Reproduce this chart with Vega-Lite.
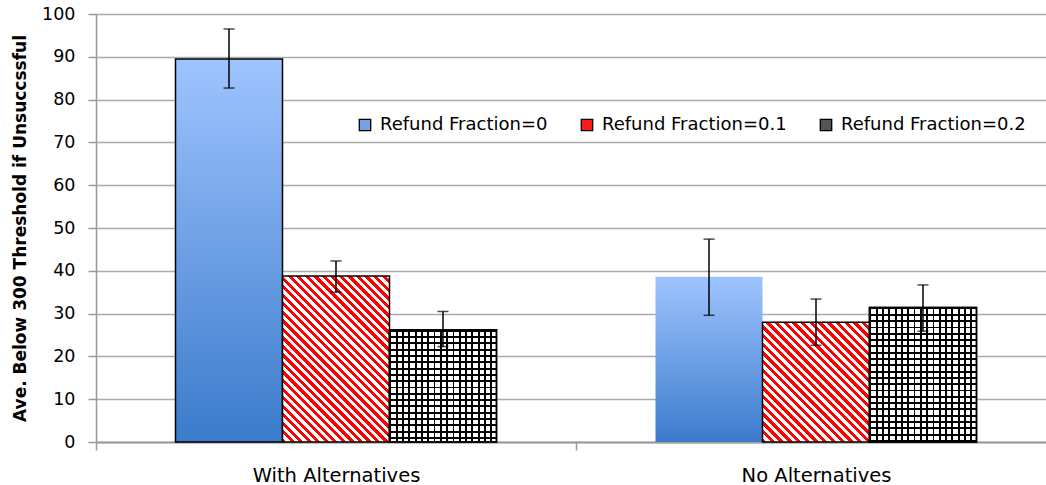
{
  "$schema": "https://vega.github.io/schema/vega-lite/v6.json",
  "width": 950,
  "height": 428,
  "autosize": {"type": "none"},
  "padding": {"left": 96, "top": 14, "right": 0, "bottom": 43},
  "background": "white",
  "config": {"view": {"stroke": null}, "font": "DejaVu Sans"},
  "data": {"values": [
    {"group": "With Alternatives", "series": "Refund Fraction=0", "value": 89.5, "lo": 82.7, "hi": 96.5},
    {"group": "With Alternatives", "series": "Refund Fraction=0.1", "value": 38.8, "lo": 35.0, "hi": 42.3},
    {"group": "With Alternatives", "series": "Refund Fraction=0.2", "value": 26.2, "lo": 22.3, "hi": 30.5},
    {"group": "No Alternatives", "series": "Refund Fraction=0", "value": 38.6, "lo": 29.6, "hi": 47.4},
    {"group": "No Alternatives", "series": "Refund Fraction=0.1", "value": 28.0, "lo": 22.6, "hi": 33.4},
    {"group": "No Alternatives", "series": "Refund Fraction=0.2", "value": 31.4, "lo": 25.9, "hi": 36.7}
  ]},
  "encoding": {
    "x": {
      "field": "group", "type": "nominal",
      "sort": ["With Alternatives", "No Alternatives"],
      "scale": {"range": [0, 960], "paddingInner": 0, "paddingOuter": 0},
      "axis": {
        "title": null, "labelAngle": 0, "labelFont": "DejaVu Sans", "labelFontSize": 19.5, "labelColor": "black",
        "tickBand": "extent", "tickSize": 8, "tickColor": "#999999", "tickWidth": 1.5,
        "domainColor": "#999999", "domainWidth": 2, "labelBaseline": "alphabetic", "labelPadding": 31, "grid": false
      }
    },
    "xOffset": {
      "field": "series", "type": "nominal",
      "sort": ["Refund Fraction=0", "Refund Fraction=0.1", "Refund Fraction=0.2"],
      "scale": {"paddingInner": 0, "paddingOuter": 0.743}
    }
  },
  "layer": [
    {
      "mark": {"type": "bar", "stroke": "black", "strokeWidth": 1.5},
      "encoding": {
        "y": {
          "field": "value", "type": "quantitative",
          "scale": {"domain": [0, 100]},
          "axis": {
            "values": [0, 10, 20, 30, 40, 50, 60, 70, 80, 90, 100],
            "title": "Ave. Below 300 Threshold if Unsuccssful",
            "titleFont": "DejaVu Sans", "titleFontSize": 17, "titleFontWeight": "bold", "titleColor": "black",
            "titleX": -76, "titleY": 214, "titleAngle": -90, "titleBaseline": "middle", "titleAlign": "center",
            "labelFont": "DejaVu Sans", "labelFontSize": 17.5, "labelColor": "black", "labelPadding": 13,
            "tickSize": 8, "tickColor": "#999999", "tickWidth": 1.5,
            "domainColor": "#999999", "domainWidth": 1.5,
            "gridColor": "#ababab", "gridWidth": 1.5
          }
        },
        "strokeOpacity": {
          "condition": {"test": "datum.series === 'Refund Fraction=0' && datum.group === 'No Alternatives'", "value": 0},
          "value": 1
        },
        "fill": {
          "field": "series", "type": "nominal",
          "scale": {
            "domain": ["Refund Fraction=0", "Refund Fraction=0.1", "Refund Fraction=0.2"],
            "range": ["#74a3e8", "#ff1a1a", "#555555"]
          },
          "legend": {
            "title": null, "orient": "none", "legendX": 260, "legendY": 102, "direction": "horizontal",
            "symbolType": "square", "symbolSize": 130, "labelFont": "DejaVu Sans", "labelFontSize": 18,
            "labelColor": "black", "labelOffset": 6, "columnPadding": 30, "padding": 0, "labelLimit": 400,
            "symbolStrokeWidth": 1.3
          },
          "condition": [
            {"test": "datum.series === 'Refund Fraction=0'",
             "value": {"gradient": "linear", "x1": 0, "y1": 0, "x2": 0, "y2": 1, "stops": [{"offset": 0, "color": "#9fc4ff"}, {"offset": 1, "color": "#3b7bcb"}]}},
            {"test": "datum.series === 'Refund Fraction=0.1' && datum.group === 'With Alternatives'",
             "value": {"gradient": "linear", "x1": 0, "y1": 1, "x2": 0.7487, "y2": -0.1619, "stops": [
              {"offset":0,"color":"red"},
              {"offset":0.015625,"color":"red"},{"offset":0.015625,"color":"white"},
              {"offset":0.03125,"color":"white"},{"offset":0.03125,"color":"red"},
              {"offset":0.046875,"color":"red"},{"offset":0.046875,"color":"white"},
              {"offset":0.0625,"color":"white"},{"offset":0.0625,"color":"red"},
              {"offset":0.078125,"color":"red"},{"offset":0.078125,"color":"white"},
              {"offset":0.09375,"color":"white"},{"offset":0.09375,"color":"red"},
              {"offset":0.109375,"color":"red"},{"offset":0.109375,"color":"white"},
              {"offset":0.125,"color":"white"},{"offset":0.125,"color":"red"},
              {"offset":0.140625,"color":"red"},{"offset":0.140625,"color":"white"},
              {"offset":0.15625,"color":"white"},{"offset":0.15625,"color":"red"},
              {"offset":0.171875,"color":"red"},{"offset":0.171875,"color":"white"},
              {"offset":0.1875,"color":"white"},{"offset":0.1875,"color":"red"},
              {"offset":0.203125,"color":"red"},{"offset":0.203125,"color":"white"},
              {"offset":0.21875,"color":"white"},{"offset":0.21875,"color":"red"},
              {"offset":0.234375,"color":"red"},{"offset":0.234375,"color":"white"},
              {"offset":0.25,"color":"white"},{"offset":0.25,"color":"red"},
              {"offset":0.265625,"color":"red"},{"offset":0.265625,"color":"white"},
              {"offset":0.28125,"color":"white"},{"offset":0.28125,"color":"red"},
              {"offset":0.296875,"color":"red"},{"offset":0.296875,"color":"white"},
              {"offset":0.3125,"color":"white"},{"offset":0.3125,"color":"red"},
              {"offset":0.328125,"color":"red"},{"offset":0.328125,"color":"white"},
              {"offset":0.34375,"color":"white"},{"offset":0.34375,"color":"red"},
              {"offset":0.359375,"color":"red"},{"offset":0.359375,"color":"white"},
              {"offset":0.375,"color":"white"},{"offset":0.375,"color":"red"},
              {"offset":0.390625,"color":"red"},{"offset":0.390625,"color":"white"},
              {"offset":0.40625,"color":"white"},{"offset":0.40625,"color":"red"},
              {"offset":0.421875,"color":"red"},{"offset":0.421875,"color":"white"},
              {"offset":0.4375,"color":"white"},{"offset":0.4375,"color":"red"},
              {"offset":0.453125,"color":"red"},{"offset":0.453125,"color":"white"},
              {"offset":0.46875,"color":"white"},{"offset":0.46875,"color":"red"},
              {"offset":0.484375,"color":"red"},{"offset":0.484375,"color":"white"},
              {"offset":0.5,"color":"white"},{"offset":0.5,"color":"red"},
              {"offset":0.515625,"color":"red"},{"offset":0.515625,"color":"white"},
              {"offset":0.53125,"color":"white"},{"offset":0.53125,"color":"red"},
              {"offset":0.546875,"color":"red"},{"offset":0.546875,"color":"white"},
              {"offset":0.5625,"color":"white"},{"offset":0.5625,"color":"red"},
              {"offset":0.578125,"color":"red"},{"offset":0.578125,"color":"white"},
              {"offset":0.59375,"color":"white"},{"offset":0.59375,"color":"red"},
              {"offset":0.609375,"color":"red"},{"offset":0.609375,"color":"white"},
              {"offset":0.625,"color":"white"},{"offset":0.625,"color":"red"},
              {"offset":0.640625,"color":"red"},{"offset":0.640625,"color":"white"},
              {"offset":0.65625,"color":"white"},{"offset":0.65625,"color":"red"},
              {"offset":0.671875,"color":"red"},{"offset":0.671875,"color":"white"},
              {"offset":0.6875,"color":"white"},{"offset":0.6875,"color":"red"},
              {"offset":0.703125,"color":"red"},{"offset":0.703125,"color":"white"},
              {"offset":0.71875,"color":"white"},{"offset":0.71875,"color":"red"},
              {"offset":0.734375,"color":"red"},{"offset":0.734375,"color":"white"},
              {"offset":0.75,"color":"white"},{"offset":0.75,"color":"red"},
              {"offset":0.765625,"color":"red"},{"offset":0.765625,"color":"white"},
              {"offset":0.78125,"color":"white"},{"offset":0.78125,"color":"red"},
              {"offset":0.796875,"color":"red"},{"offset":0.796875,"color":"white"},
              {"offset":0.8125,"color":"white"},{"offset":0.8125,"color":"red"},
              {"offset":0.828125,"color":"red"},{"offset":0.828125,"color":"white"},
              {"offset":0.84375,"color":"white"},{"offset":0.84375,"color":"red"},
              {"offset":0.859375,"color":"red"},{"offset":0.859375,"color":"white"},
              {"offset":0.875,"color":"white"},{"offset":0.875,"color":"red"},
              {"offset":0.890625,"color":"red"},{"offset":0.890625,"color":"white"},
              {"offset":0.90625,"color":"white"},{"offset":0.90625,"color":"red"},
              {"offset":0.921875,"color":"red"},{"offset":0.921875,"color":"white"},
              {"offset":0.9375,"color":"white"},{"offset":0.9375,"color":"red"},
              {"offset":0.953125,"color":"red"},{"offset":0.953125,"color":"white"},
              {"offset":0.96875,"color":"white"},{"offset":0.96875,"color":"red"},
              {"offset":0.984375,"color":"red"},{"offset":0.984375,"color":"white"},
              {"offset":1,"color":"white"}
             ]}},
            {"test": "datum.series === 'Refund Fraction=0.1'",
             "value": {"gradient": "linear", "x1": 0, "y1": 1, "x2": 1.1574, "y2": -0.2963, "stops": [
              {"offset":0,"color":"red"},
              {"offset":0.015625,"color":"red"},{"offset":0.015625,"color":"white"},
              {"offset":0.03125,"color":"white"},{"offset":0.03125,"color":"red"},
              {"offset":0.046875,"color":"red"},{"offset":0.046875,"color":"white"},
              {"offset":0.0625,"color":"white"},{"offset":0.0625,"color":"red"},
              {"offset":0.078125,"color":"red"},{"offset":0.078125,"color":"white"},
              {"offset":0.09375,"color":"white"},{"offset":0.09375,"color":"red"},
              {"offset":0.109375,"color":"red"},{"offset":0.109375,"color":"white"},
              {"offset":0.125,"color":"white"},{"offset":0.125,"color":"red"},
              {"offset":0.140625,"color":"red"},{"offset":0.140625,"color":"white"},
              {"offset":0.15625,"color":"white"},{"offset":0.15625,"color":"red"},
              {"offset":0.171875,"color":"red"},{"offset":0.171875,"color":"white"},
              {"offset":0.1875,"color":"white"},{"offset":0.1875,"color":"red"},
              {"offset":0.203125,"color":"red"},{"offset":0.203125,"color":"white"},
              {"offset":0.21875,"color":"white"},{"offset":0.21875,"color":"red"},
              {"offset":0.234375,"color":"red"},{"offset":0.234375,"color":"white"},
              {"offset":0.25,"color":"white"},{"offset":0.25,"color":"red"},
              {"offset":0.265625,"color":"red"},{"offset":0.265625,"color":"white"},
              {"offset":0.28125,"color":"white"},{"offset":0.28125,"color":"red"},
              {"offset":0.296875,"color":"red"},{"offset":0.296875,"color":"white"},
              {"offset":0.3125,"color":"white"},{"offset":0.3125,"color":"red"},
              {"offset":0.328125,"color":"red"},{"offset":0.328125,"color":"white"},
              {"offset":0.34375,"color":"white"},{"offset":0.34375,"color":"red"},
              {"offset":0.359375,"color":"red"},{"offset":0.359375,"color":"white"},
              {"offset":0.375,"color":"white"},{"offset":0.375,"color":"red"},
              {"offset":0.390625,"color":"red"},{"offset":0.390625,"color":"white"},
              {"offset":0.40625,"color":"white"},{"offset":0.40625,"color":"red"},
              {"offset":0.421875,"color":"red"},{"offset":0.421875,"color":"white"},
              {"offset":0.4375,"color":"white"},{"offset":0.4375,"color":"red"},
              {"offset":0.453125,"color":"red"},{"offset":0.453125,"color":"white"},
              {"offset":0.46875,"color":"white"},{"offset":0.46875,"color":"red"},
              {"offset":0.484375,"color":"red"},{"offset":0.484375,"color":"white"},
              {"offset":0.5,"color":"white"},{"offset":0.5,"color":"red"},
              {"offset":0.515625,"color":"red"},{"offset":0.515625,"color":"white"},
              {"offset":0.53125,"color":"white"},{"offset":0.53125,"color":"red"},
              {"offset":0.546875,"color":"red"},{"offset":0.546875,"color":"white"},
              {"offset":0.5625,"color":"white"},{"offset":0.5625,"color":"red"},
              {"offset":0.578125,"color":"red"},{"offset":0.578125,"color":"white"},
              {"offset":0.59375,"color":"white"},{"offset":0.59375,"color":"red"},
              {"offset":0.609375,"color":"red"},{"offset":0.609375,"color":"white"},
              {"offset":0.625,"color":"white"},{"offset":0.625,"color":"red"},
              {"offset":0.640625,"color":"red"},{"offset":0.640625,"color":"white"},
              {"offset":0.65625,"color":"white"},{"offset":0.65625,"color":"red"},
              {"offset":0.671875,"color":"red"},{"offset":0.671875,"color":"white"},
              {"offset":0.6875,"color":"white"},{"offset":0.6875,"color":"red"},
              {"offset":0.703125,"color":"red"},{"offset":0.703125,"color":"white"},
              {"offset":0.71875,"color":"white"},{"offset":0.71875,"color":"red"},
              {"offset":0.734375,"color":"red"},{"offset":0.734375,"color":"white"},
              {"offset":0.75,"color":"white"},{"offset":0.75,"color":"red"},
              {"offset":0.765625,"color":"red"},{"offset":0.765625,"color":"white"},
              {"offset":0.78125,"color":"white"},{"offset":0.78125,"color":"red"},
              {"offset":0.796875,"color":"red"},{"offset":0.796875,"color":"white"},
              {"offset":0.8125,"color":"white"}
             ]}},
            {"test": "datum.series === 'Refund Fraction=0.2'",
             "value": {"gradient": "linear", "x1": 0, "y1": 0, "x2": 1.472, "y2": 0, "stops": [
              {"offset":0,"color":"black"},{"offset":0.012,"color":"black"},{"offset":0.012,"color":"white"},{"offset":0.04,"color":"white"},
              {"offset":0.04,"color":"black"},{"offset":0.052,"color":"black"},{"offset":0.052,"color":"white"},{"offset":0.08,"color":"white"},
              {"offset":0.08,"color":"black"},{"offset":0.092,"color":"black"},{"offset":0.092,"color":"white"},{"offset":0.12,"color":"white"},
              {"offset":0.12,"color":"black"},{"offset":0.132,"color":"black"},{"offset":0.132,"color":"white"},{"offset":0.16,"color":"white"},
              {"offset":0.16,"color":"black"},{"offset":0.172,"color":"black"},{"offset":0.172,"color":"white"},{"offset":0.2,"color":"white"},
              {"offset":0.2,"color":"black"},{"offset":0.212,"color":"black"},{"offset":0.212,"color":"white"},{"offset":0.24,"color":"white"},
              {"offset":0.24,"color":"black"},{"offset":0.252,"color":"black"},{"offset":0.252,"color":"white"},{"offset":0.28,"color":"white"},
              {"offset":0.28,"color":"black"},{"offset":0.292,"color":"black"},{"offset":0.292,"color":"white"},{"offset":0.32,"color":"white"},
              {"offset":0.32,"color":"black"},{"offset":0.332,"color":"black"},{"offset":0.332,"color":"white"},{"offset":0.36,"color":"white"},
              {"offset":0.36,"color":"black"},{"offset":0.372,"color":"black"},{"offset":0.372,"color":"white"},{"offset":0.4,"color":"white"},
              {"offset":0.4,"color":"black"},{"offset":0.412,"color":"black"},{"offset":0.412,"color":"white"},{"offset":0.44,"color":"white"},
              {"offset":0.44,"color":"black"},{"offset":0.452,"color":"black"},{"offset":0.452,"color":"white"},{"offset":0.48,"color":"white"},
              {"offset":0.48,"color":"black"},{"offset":0.492,"color":"black"},{"offset":0.492,"color":"white"},{"offset":0.52,"color":"white"},
              {"offset":0.52,"color":"black"},{"offset":0.532,"color":"black"},{"offset":0.532,"color":"white"},{"offset":0.56,"color":"white"},
              {"offset":0.56,"color":"black"},{"offset":0.572,"color":"black"},{"offset":0.572,"color":"white"},{"offset":0.6,"color":"white"},
              {"offset":0.6,"color":"black"},{"offset":0.612,"color":"black"},{"offset":0.612,"color":"white"},{"offset":0.64,"color":"white"},
              {"offset":0.64,"color":"black"},{"offset":0.652,"color":"black"},{"offset":0.652,"color":"white"},{"offset":0.68,"color":"white"},
              {"offset":0.68,"color":"black"},{"offset":0.692,"color":"black"},{"offset":0.692,"color":"white"},{"offset":1,"color":"white"}
             ]}}
          ]
        }
      }
    },
    {
      "transform": [{"filter": "datum.series === 'Refund Fraction=0.2'"}],
      "mark": {"type": "bar", "stroke": "black", "strokeWidth": 1.5},
      "encoding": {
        "y": {"field": "value", "type": "quantitative", "title": "Ave. Below 300 Threshold if Unsuccssful"},
        "fill": {
          "condition": {"test": "datum.group === 'With Alternatives'",
            "value": {"gradient": "linear", "x1": 0, "y1": 0, "x2": 0, "y2": 1.405, "stops": [
              {"offset":0,"color":"black"},{"offset":0.012,"color":"black"},{"offset":0.012,"color":"rgba(0,0,0,0)"},{"offset":0.04,"color":"rgba(0,0,0,0)"},
              {"offset":0.04,"color":"black"},{"offset":0.052,"color":"black"},{"offset":0.052,"color":"rgba(0,0,0,0)"},{"offset":0.08,"color":"rgba(0,0,0,0)"},
              {"offset":0.08,"color":"black"},{"offset":0.092,"color":"black"},{"offset":0.092,"color":"rgba(0,0,0,0)"},{"offset":0.12,"color":"rgba(0,0,0,0)"},
              {"offset":0.12,"color":"black"},{"offset":0.132,"color":"black"},{"offset":0.132,"color":"rgba(0,0,0,0)"},{"offset":0.16,"color":"rgba(0,0,0,0)"},
              {"offset":0.16,"color":"black"},{"offset":0.172,"color":"black"},{"offset":0.172,"color":"rgba(0,0,0,0)"},{"offset":0.2,"color":"rgba(0,0,0,0)"},
              {"offset":0.2,"color":"black"},{"offset":0.212,"color":"black"},{"offset":0.212,"color":"rgba(0,0,0,0)"},{"offset":0.24,"color":"rgba(0,0,0,0)"},
              {"offset":0.24,"color":"black"},{"offset":0.252,"color":"black"},{"offset":0.252,"color":"rgba(0,0,0,0)"},{"offset":0.28,"color":"rgba(0,0,0,0)"},
              {"offset":0.28,"color":"black"},{"offset":0.292,"color":"black"},{"offset":0.292,"color":"rgba(0,0,0,0)"},{"offset":0.32,"color":"rgba(0,0,0,0)"},
              {"offset":0.32,"color":"black"},{"offset":0.332,"color":"black"},{"offset":0.332,"color":"rgba(0,0,0,0)"},{"offset":0.36,"color":"rgba(0,0,0,0)"},
              {"offset":0.36,"color":"black"},{"offset":0.372,"color":"black"},{"offset":0.372,"color":"rgba(0,0,0,0)"},{"offset":0.4,"color":"rgba(0,0,0,0)"},
              {"offset":0.4,"color":"black"},{"offset":0.412,"color":"black"},{"offset":0.412,"color":"rgba(0,0,0,0)"},{"offset":0.44,"color":"rgba(0,0,0,0)"},
              {"offset":0.44,"color":"black"},{"offset":0.452,"color":"black"},{"offset":0.452,"color":"rgba(0,0,0,0)"},{"offset":0.48,"color":"rgba(0,0,0,0)"},
              {"offset":0.48,"color":"black"},{"offset":0.492,"color":"black"},{"offset":0.492,"color":"rgba(0,0,0,0)"},{"offset":0.52,"color":"rgba(0,0,0,0)"},
              {"offset":0.52,"color":"black"},{"offset":0.532,"color":"black"},{"offset":0.532,"color":"rgba(0,0,0,0)"},{"offset":0.56,"color":"rgba(0,0,0,0)"},
              {"offset":0.56,"color":"black"},{"offset":0.572,"color":"black"},{"offset":0.572,"color":"rgba(0,0,0,0)"},{"offset":0.6,"color":"rgba(0,0,0,0)"},
              {"offset":0.6,"color":"black"},{"offset":0.612,"color":"black"},{"offset":0.612,"color":"rgba(0,0,0,0)"},{"offset":0.64,"color":"rgba(0,0,0,0)"},
              {"offset":0.64,"color":"black"},{"offset":0.652,"color":"black"},{"offset":0.652,"color":"rgba(0,0,0,0)"},{"offset":0.68,"color":"rgba(0,0,0,0)"},
              {"offset":0.68,"color":"black"},{"offset":0.692,"color":"black"},{"offset":0.692,"color":"rgba(0,0,0,0)"},{"offset":1,"color":"rgba(0,0,0,0)"}
            ]}},
          "value": {"gradient": "linear", "x1": 0, "y1": 0, "x2": 0, "y2": 1.172, "stops": [
              {"offset":0,"color":"black"},{"offset":0.012,"color":"black"},{"offset":0.012,"color":"rgba(0,0,0,0)"},{"offset":0.04,"color":"rgba(0,0,0,0)"},
              {"offset":0.04,"color":"black"},{"offset":0.052,"color":"black"},{"offset":0.052,"color":"rgba(0,0,0,0)"},{"offset":0.08,"color":"rgba(0,0,0,0)"},
              {"offset":0.08,"color":"black"},{"offset":0.092,"color":"black"},{"offset":0.092,"color":"rgba(0,0,0,0)"},{"offset":0.12,"color":"rgba(0,0,0,0)"},
              {"offset":0.12,"color":"black"},{"offset":0.132,"color":"black"},{"offset":0.132,"color":"rgba(0,0,0,0)"},{"offset":0.16,"color":"rgba(0,0,0,0)"},
              {"offset":0.16,"color":"black"},{"offset":0.172,"color":"black"},{"offset":0.172,"color":"rgba(0,0,0,0)"},{"offset":0.2,"color":"rgba(0,0,0,0)"},
              {"offset":0.2,"color":"black"},{"offset":0.212,"color":"black"},{"offset":0.212,"color":"rgba(0,0,0,0)"},{"offset":0.24,"color":"rgba(0,0,0,0)"},
              {"offset":0.24,"color":"black"},{"offset":0.252,"color":"black"},{"offset":0.252,"color":"rgba(0,0,0,0)"},{"offset":0.28,"color":"rgba(0,0,0,0)"},
              {"offset":0.28,"color":"black"},{"offset":0.292,"color":"black"},{"offset":0.292,"color":"rgba(0,0,0,0)"},{"offset":0.32,"color":"rgba(0,0,0,0)"},
              {"offset":0.32,"color":"black"},{"offset":0.332,"color":"black"},{"offset":0.332,"color":"rgba(0,0,0,0)"},{"offset":0.36,"color":"rgba(0,0,0,0)"},
              {"offset":0.36,"color":"black"},{"offset":0.372,"color":"black"},{"offset":0.372,"color":"rgba(0,0,0,0)"},{"offset":0.4,"color":"rgba(0,0,0,0)"},
              {"offset":0.4,"color":"black"},{"offset":0.412,"color":"black"},{"offset":0.412,"color":"rgba(0,0,0,0)"},{"offset":0.44,"color":"rgba(0,0,0,0)"},
              {"offset":0.44,"color":"black"},{"offset":0.452,"color":"black"},{"offset":0.452,"color":"rgba(0,0,0,0)"},{"offset":0.48,"color":"rgba(0,0,0,0)"},
              {"offset":0.48,"color":"black"},{"offset":0.492,"color":"black"},{"offset":0.492,"color":"rgba(0,0,0,0)"},{"offset":0.52,"color":"rgba(0,0,0,0)"},
              {"offset":0.52,"color":"black"},{"offset":0.532,"color":"black"},{"offset":0.532,"color":"rgba(0,0,0,0)"},{"offset":0.56,"color":"rgba(0,0,0,0)"},
              {"offset":0.56,"color":"black"},{"offset":0.572,"color":"black"},{"offset":0.572,"color":"rgba(0,0,0,0)"},{"offset":0.6,"color":"rgba(0,0,0,0)"},
              {"offset":0.6,"color":"black"},{"offset":0.612,"color":"black"},{"offset":0.612,"color":"rgba(0,0,0,0)"},{"offset":0.64,"color":"rgba(0,0,0,0)"},
              {"offset":0.64,"color":"black"},{"offset":0.652,"color":"black"},{"offset":0.652,"color":"rgba(0,0,0,0)"},{"offset":0.68,"color":"rgba(0,0,0,0)"},
              {"offset":0.68,"color":"black"},{"offset":0.692,"color":"black"},{"offset":0.692,"color":"rgba(0,0,0,0)"},{"offset":0.72,"color":"rgba(0,0,0,0)"},
              {"offset":0.72,"color":"black"},{"offset":0.732,"color":"black"},{"offset":0.732,"color":"rgba(0,0,0,0)"},{"offset":0.76,"color":"rgba(0,0,0,0)"},
              {"offset":0.76,"color":"black"},{"offset":0.772,"color":"black"},{"offset":0.772,"color":"rgba(0,0,0,0)"},{"offset":0.8,"color":"rgba(0,0,0,0)"},
              {"offset":0.8,"color":"black"},{"offset":0.812,"color":"black"},{"offset":0.812,"color":"rgba(0,0,0,0)"},{"offset":0.84,"color":"rgba(0,0,0,0)"},
              {"offset":0.84,"color":"black"},{"offset":0.852,"color":"black"},{"offset":0.852,"color":"rgba(0,0,0,0)"},{"offset":1,"color":"rgba(0,0,0,0)"}
          ]}
        }
      }
    },
    {
      "mark": {"type": "rule", "color": "black", "strokeWidth": 1.5},
      "encoding": {
        "y": {"field": "lo", "type": "quantitative", "title": "Ave. Below 300 Threshold if Unsuccssful"},
        "y2": {"field": "hi"}
      }
    },
    {
      "mark": {"type": "tick", "color": "black", "thickness": 1.5},
      "encoding": {
        "y": {"field": "lo", "type": "quantitative", "title": "Ave. Below 300 Threshold if Unsuccssful"},
        "size": {"value": 11}
      }
    },
    {
      "mark": {"type": "tick", "color": "black", "thickness": 1.5},
      "encoding": {
        "y": {"field": "hi", "type": "quantitative", "title": "Ave. Below 300 Threshold if Unsuccssful"},
        "size": {"value": 11}
      }
    }
  ]
}
